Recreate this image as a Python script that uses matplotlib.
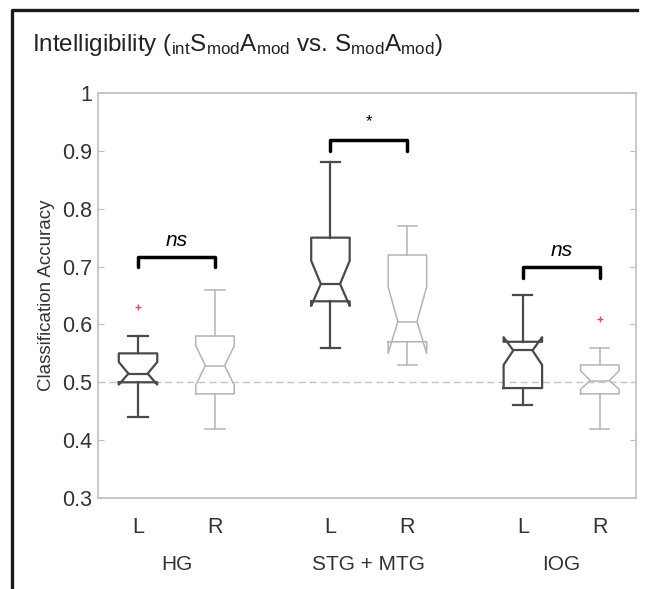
import numpy as np
import matplotlib
matplotlib.use('Agg')
import matplotlib.pyplot as plt
from matplotlib.lines import Line2D
from matplotlib.transforms import blended_transform_factory

plt.rcParams['font.family'] = ['Liberation Sans', 'DejaVu Sans']
plt.rcParams['mathtext.fontset'] = 'custom'
plt.rcParams['mathtext.rm'] = 'Liberation Sans'
plt.rcParams['mathtext.it'] = 'Liberation Sans:italic'

# data
regions = ['HG', 'STG + MTG', 'IOG']
sides = ['L', 'R', 'L', 'R', 'L', 'R']
whis_lo = [0.44, 0.42, 0.56, 0.53, 0.46, 0.42]
q1 = [0.50, 0.48, 0.64, 0.57, 0.49, 0.48]
med = [0.515, 0.529, 0.67, 0.605, 0.555, 0.503]
q3 = [0.55, 0.58, 0.75, 0.72, 0.57, 0.53]
whis_hi = [0.58, 0.66, 0.88, 0.77, 0.65, 0.56]
ci_lo = [0.496, 0.495, 0.632, 0.55, 0.53, 0.488]
ci_hi = [0.535, 0.563, 0.71, 0.665, 0.578, 0.52]
outliers = [[0.63], [], [], [], [], [0.61]]
chance = 0.5
sig_labels = ['ns', '*', 'ns']
bracket_top = [0.717, 0.918, 0.70]
bracket_leg = [0.70, 0.90, 0.68]

positions = [1, 2, 3.5, 4.5, 6, 7]

fig = plt.figure(figsize=(6.45, 5.89), dpi=100)
ax = fig.add_axes([98/645, 1-498/589, 538/645, 405/589])

ax.axhline(chance, color='#c4c4c4', lw=1.0, ls=(0, (5, 3)), zorder=0)

stats = []
for i in range(6):
    stats.append(dict(whislo=whis_lo[i], q1=q1[i], med=med[i], q3=q3[i],
                      whishi=whis_hi[i], cilo=ci_lo[i], cihi=ci_hi[i],
                      fliers=outliers[i]))

for i in range(6):
    if sides[i] == 'L':
        c, lw = '#4a4a4a', 1.6
    else:
        c, lw = '#b4b4b4', 1.1
    ax.bxp([stats[i]], positions=[positions[i]], widths=0.5, shownotches=True,
           boxprops=dict(color=c, lw=lw), whiskerprops=dict(color=c, lw=lw),
           capprops=dict(color=c, lw=lw), medianprops=dict(color=c, lw=lw),
           flierprops=dict(marker='+', markeredgecolor='#e8484f', markersize=5, mew=1.0),
           manage_ticks=False)

# significance brackets
for g in range(3):
    x1, x2 = positions[2*g], positions[2*g+1]
    ax.plot([x1, x1, x2, x2], [bracket_leg[g], bracket_top[g], bracket_top[g], bracket_leg[g]],
            color='black', lw=2.5, solid_joinstyle='round', solid_capstyle='round')
    if sig_labels[g] == '*':
        ax.text((x1+x2)/2, bracket_top[g]+0.02, '*', ha='center', va='bottom', fontsize=12)
    else:
        ax.text((x1+x2)/2, bracket_top[g]+0.012, sig_labels[g], ha='center', va='bottom',
                fontsize=15, style='italic')

ax.set_xlim(0.48, 7.47)
ax.set_ylim(0.3, 1.0)
ax.set_yticks([0.3, 0.4, 0.5, 0.6, 0.7, 0.8, 0.9, 1.0])
ax.set_yticklabels(['0.3', '0.4', '0.5', '0.6', '0.7', '0.8', '0.9', '1'])
ax.set_xticks(positions)
ax.set_xticklabels(sides)
ax.tick_params(axis='y', direction='in', length=4, color='#c0c0c0', right=True,
               labelsize=15.5, labelcolor='#333333', pad=4)
ax.tick_params(axis='x', length=0, labelsize=15.5, labelcolor='#333333', pad=14)
for s in ax.spines.values():
    s.set_color('#c4c4c4')
    s.set_linewidth(1.3)
ax.set_ylabel('Classification Accuracy', fontsize=13.5, color='#333333', labelpad=5)

trans = blended_transform_factory(ax.transData, ax.transAxes)
for g in range(3):
    ax.text((positions[2*g]+positions[2*g+1])/2, -0.165, regions[g], transform=trans,
            ha='center', va='center', fontsize=15, color='#333333')

fig.text(32/645, 1-45/589,
         r'Intelligibility ($_{\mathrm{int}}$S$_{\mathrm{mod}}$A$_{\mathrm{mod}}$ vs. S$_{\mathrm{mod}}$A$_{\mathrm{mod}}$)',
         ha='left', va='center', fontsize=17.5, color='#222222')

# panel frame (top and left edges)
fig.add_artist(Line2D([12/645, 12/645, 637/645], [0, 1-10/589, 1-10/589],
                      transform=fig.transFigure, color='#1a1a1a', lw=2.4))

fig.savefig('out.png', dpi=100)
